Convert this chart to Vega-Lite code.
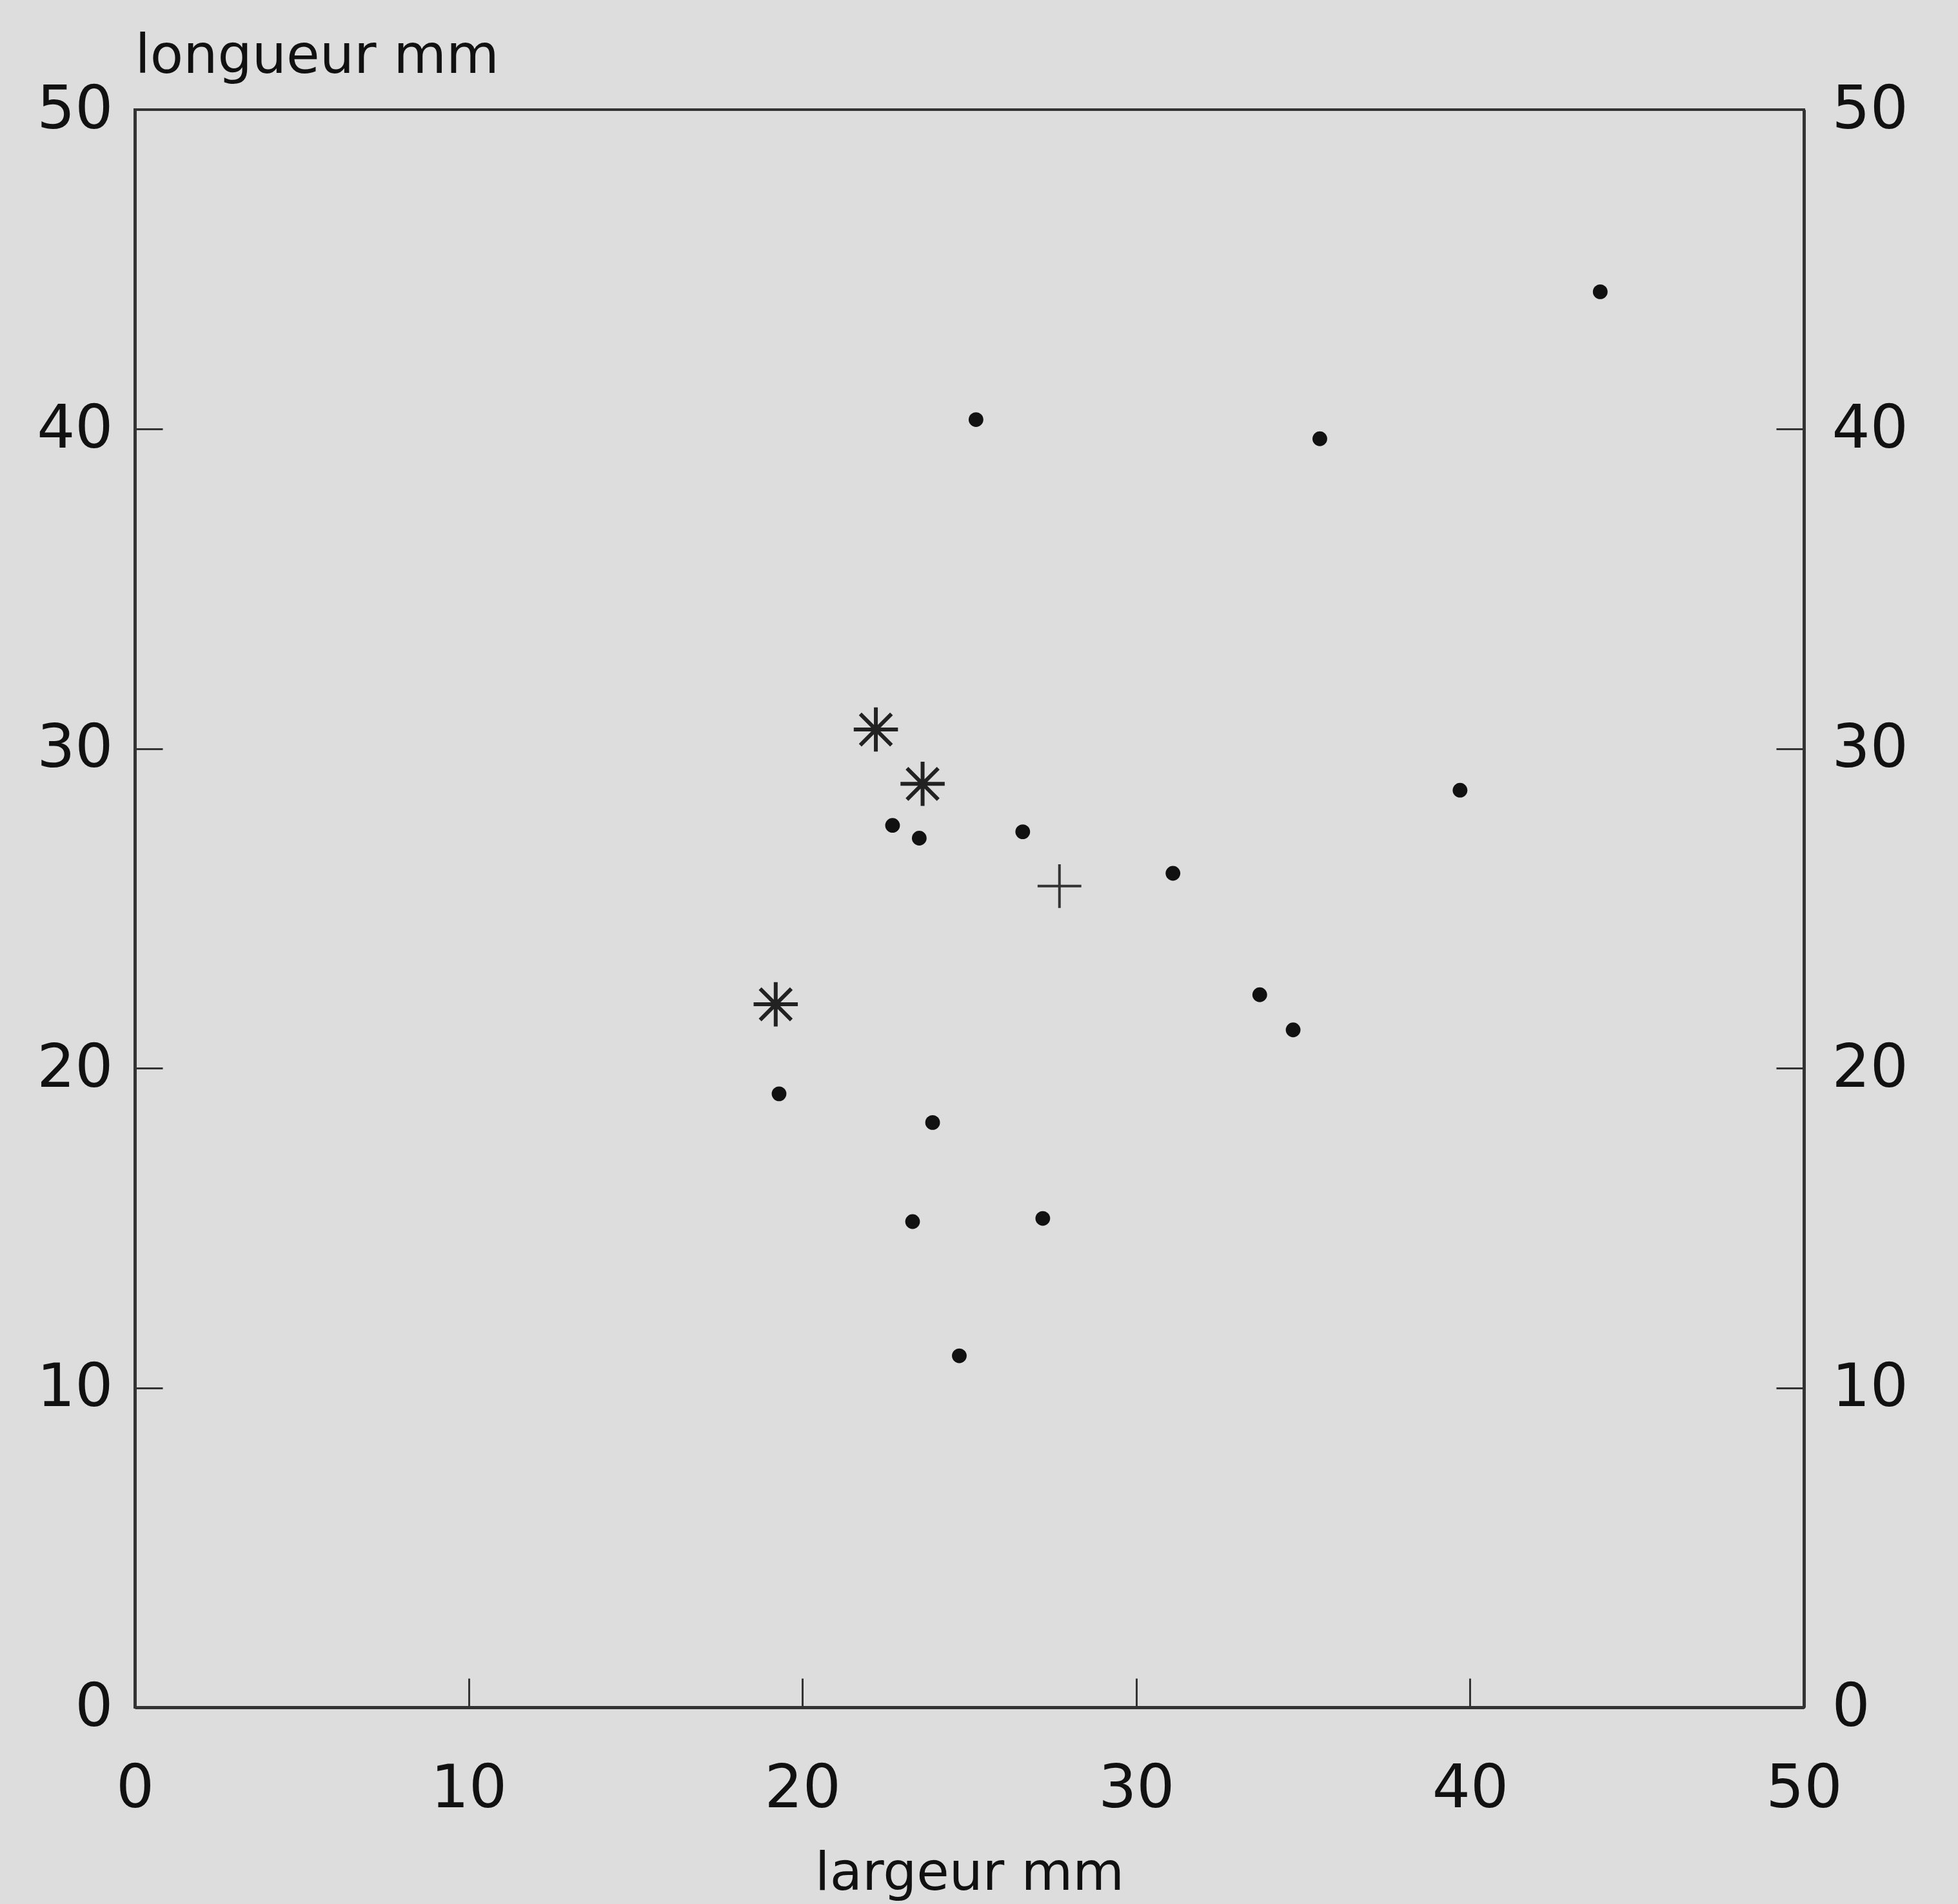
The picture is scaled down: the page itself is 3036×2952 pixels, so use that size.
{
  "$schema": "https://vega.github.io/schema/vega-lite/v6.json",
  "autosize": "none",
  "width": 2588,
  "height": 2477,
  "padding": {"left": 209, "top": 170, "right": 239, "bottom": 305},
  "background": "#dddddd",
  "config": {
    "view": {"stroke": "#333333", "strokeWidth": 4, "fill": null},
    "font": "DejaVu Sans",
    "axis": {
      "labelFont": "DejaVu Sans",
      "labelFontSize": 93,
      "labelColor": "#111111",
      "titleFont": "DejaVu Sans",
      "titleFontSize": 84,
      "titleFontWeight": "normal",
      "titleColor": "#111111",
      "domainColor": "#333333",
      "domainWidth": 5,
      "tickColor": "#333333",
      "tickWidth": 3,
      "grid": false,
      "labelFlush": false,
      "labelOverlap": false,
      "labelBound": false
    },
    "axisX": {
      "tickSize": -45,
      "labelPadding": 126
    },
    "axisY": {
      "tickSize": -43,
      "labelPadding": 86
    }
  },
  "data": {
    "values": [
      {"largeur": 43.9, "longueur": 44.3, "type": "point"},
      {"largeur": 25.2, "longueur": 40.3, "type": "point"},
      {"largeur": 35.5, "longueur": 39.7, "type": "point"},
      {"largeur": 39.7, "longueur": 28.7, "type": "point"},
      {"largeur": 22.7, "longueur": 27.6, "type": "point"},
      {"largeur": 23.5, "longueur": 27.2, "type": "point"},
      {"largeur": 26.6, "longueur": 27.4, "type": "point"},
      {"largeur": 31.1, "longueur": 26.1, "type": "point"},
      {"largeur": 33.7, "longueur": 22.3, "type": "point"},
      {"largeur": 34.7, "longueur": 21.2, "type": "point"},
      {"largeur": 19.3, "longueur": 19.2, "type": "point"},
      {"largeur": 23.9, "longueur": 18.3, "type": "point"},
      {"largeur": 23.3, "longueur": 15.2, "type": "point"},
      {"largeur": 27.2, "longueur": 15.3, "type": "point"},
      {"largeur": 24.7, "longueur": 11.0, "type": "point"},
      {"largeur": 22.2, "longueur": 30.6, "type": "etoile"},
      {"largeur": 23.6, "longueur": 28.9, "type": "etoile"},
      {"largeur": 19.2, "longueur": 22.0, "type": "etoile"},
      {"largeur": 27.7, "longueur": 25.7, "type": "croix"}
    ]
  },
  "encoding": {
    "x": {
      "field": "largeur",
      "type": "quantitative",
      "scale": {"domain": [0, 50], "nice": false, "zero": false},
      "axis": {"title": "largeur mm", "values": [0, 10, 20, 30, 40, 50], "titleY": 282, "titleBaseline": "alphabetic", "titleFontSize": 82}
    }
  },
  "layer": [
    {
      "transform": [{"filter": "datum.type === 'point'"}],
      "mark": {"type": "point", "shape": "circle", "filled": true, "color": "#111111", "size": 520, "opacity": 1},
      "encoding": {
        "y": {
          "field": "longueur",
          "type": "quantitative",
          "scale": {"domain": [0, 50], "nice": false, "zero": false},
          "axis": {"orient": "left", "values": [0, 10, 20, 30, 40, 50], "labelPadding": 77, "title": "longueur mm", "titleAngle": 0, "titleX": 0, "titleY": -58, "titleAlign": "left", "titleBaseline": "alphabetic"}
        }
      }
    },
    {
      "transform": [{"filter": "datum.type === 'etoile'"}],
      "mark": {"type": "point", "shape": "M0,-1L0,1M-1,0L1,0M-0.707,-0.707L0.707,0.707M-0.707,0.707L0.707,-0.707", "filled": false, "stroke": "#222222", "strokeWidth": 6, "size": 4700, "opacity": 1},
      "encoding": {
        "y": {
          "field": "longueur",
          "type": "quantitative",
          "scale": {"domain": [0, 50], "nice": false, "zero": false},
          "axis": {"orient": "right", "values": [0, 10, 20, 30, 40, 50], "title": null}
        }
      }
    },
    {
      "transform": [{"filter": "datum.type === 'croix'"}],
      "mark": {"type": "point", "shape": "M0,-1L0,1M-1,0L1,0", "filled": false, "stroke": "#333333", "strokeWidth": 4, "size": 4600, "opacity": 1},
      "encoding": {
        "y": {
          "field": "longueur",
          "type": "quantitative",
          "scale": {"domain": [0, 50], "nice": false, "zero": false},
          "axis": null
        }
      }
    }
  ],
  "resolve": {"axis": {"y": "independent"}}
}
